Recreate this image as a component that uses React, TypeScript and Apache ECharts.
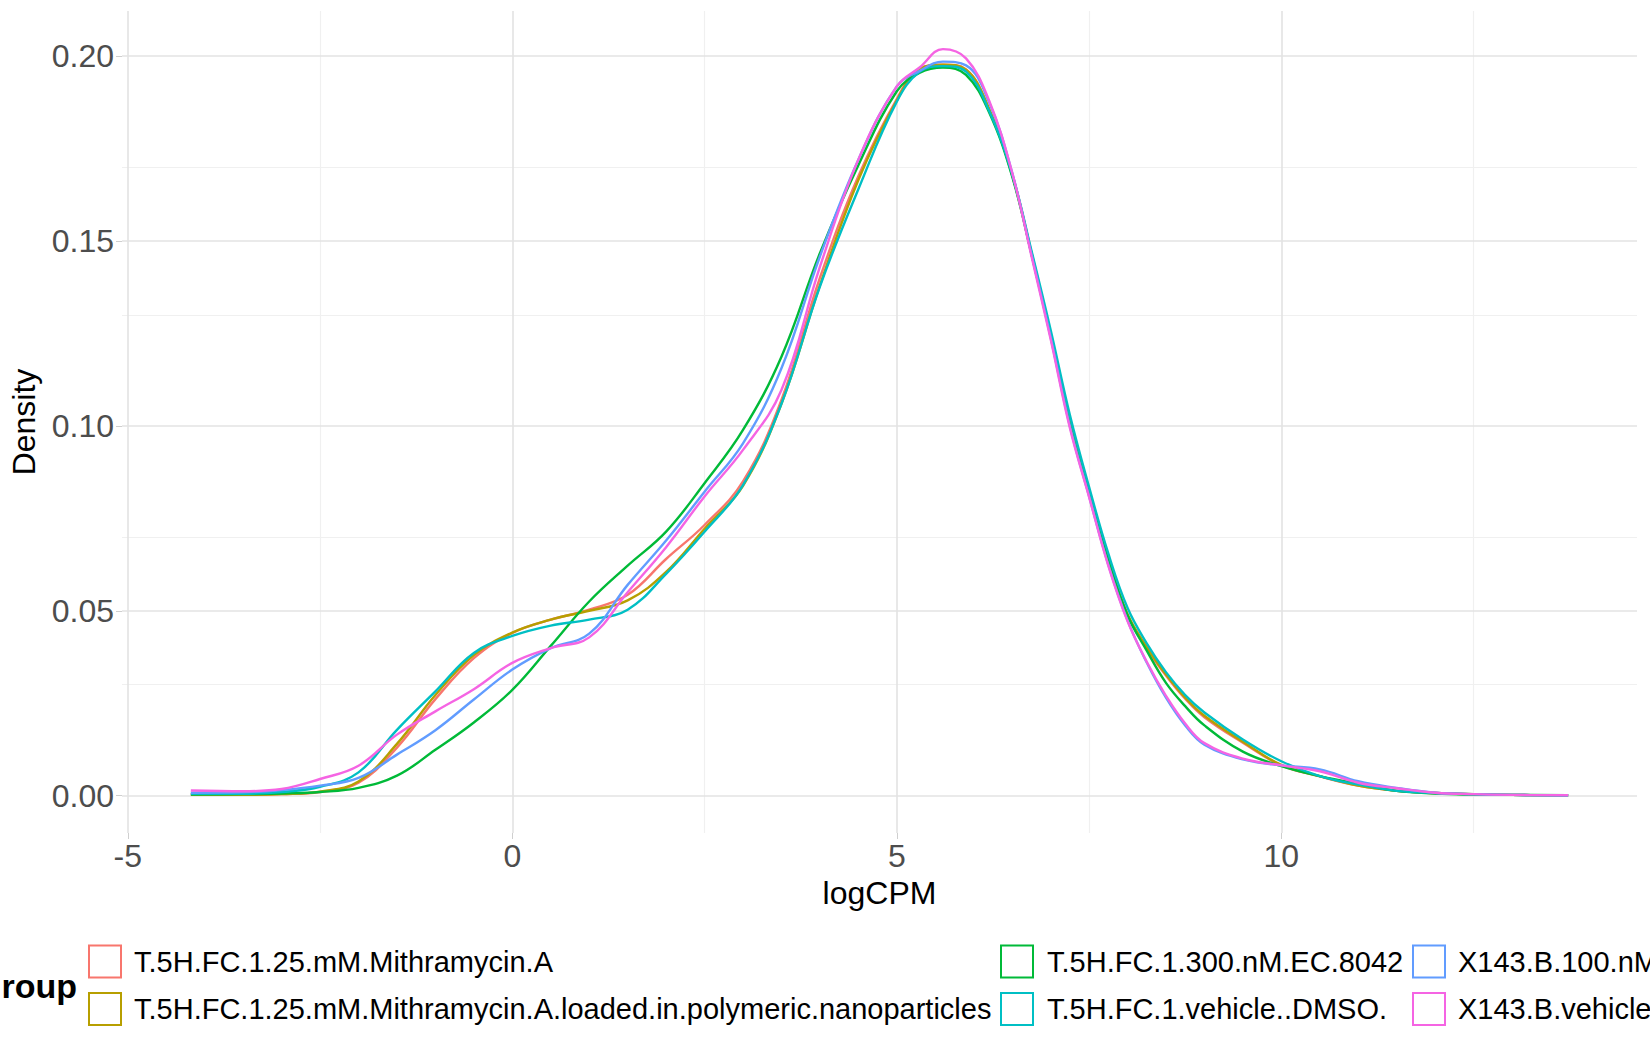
import React, { useEffect, useRef } from "react";
import * as echarts from "echarts";

// logCPM sample points shared by every density curve
const logCPM = [
    -4.18, -3.5, -3, -2.5, -2, -1.5, -1, -0.5, 0, 0.5, 1, 1.5, 2, 2.5, 3, 3.5, 4, 4.5, 5, 5.3, 5.6, 5.9,
    6.2, 6.5, 6.75, 7, 7.25, 7.5, 7.75, 8, 8.25, 8.5, 8.75, 9, 9.5, 10, 10.5, 11, 11.5, 12, 12.5, 13, 13.73,
];

const groups = [
    "T.5H.FC.1.25.mM.Mithramycin.A",
    "T.5H.FC.1.25.mM.Mithramycin.A.loaded.in.polymeric.nanoparticles",
    "T.5H.FC.1.300.nM.EC.8042",
    "T.5H.FC.1.vehicle..DMSO.",
    "X143.B.100.nM.EC.8042",
    "X143.B.vehicle..DMSO.",
];

const colors = ["#F8766D", "#B79F00", "#00BA38", "#00BFC4", "#619CFF", "#F564E3"];

const densityMithA = [
    0.0003, 0.0002, 0.0004, 0.001, 0.0035, 0.013, 0.0261, 0.0372, 0.044, 0.0476, 0.0503, 0.0543, 0.064, 0.0732,
    0.085, 0.107, 0.14, 0.1675, 0.1884, 0.1967, 0.1977, 0.1964, 0.1855, 0.1678, 0.1466, 0.1244, 0.1008, 0.0818,
    0.0637, 0.0488, 0.0398, 0.0325, 0.0262, 0.0212, 0.0143, 0.0082, 0.0052, 0.0027, 0.0013, 0.0007, 0.0004,
    0.0002, 0.0001,
];
const densityMithANano = [
    0.0003, 0.0002, 0.0004, 0.0011, 0.0038, 0.014, 0.0272, 0.038, 0.0441, 0.0476, 0.05, 0.0528, 0.0605, 0.0722,
    0.0838, 0.106, 0.138, 0.1665, 0.188, 0.1965, 0.1977, 0.1963, 0.1858, 0.168, 0.147, 0.1248, 0.1012, 0.0822,
    0.064, 0.0491, 0.0402, 0.0328, 0.0265, 0.0216, 0.0146, 0.0083, 0.0053, 0.0027, 0.0013, 0.0007, 0.0004,
    0.0002, 0.0001,
];
const densityEC8042 = [
    0.0003, 0.0004, 0.0006, 0.001, 0.0021, 0.0054, 0.0124, 0.0198, 0.0286, 0.0405, 0.0525, 0.0622, 0.0714, 0.0845,
    0.0989, 0.1187, 0.1467, 0.1705, 0.1905, 0.1955, 0.1969, 0.1949, 0.1848, 0.1675, 0.1466, 0.1244, 0.1005,
    0.0818, 0.0637, 0.0488, 0.0392, 0.0305, 0.0242, 0.019, 0.0119, 0.008, 0.0053, 0.0032, 0.0013, 0.0006,
    0.0003, 0.0002, 0.0001,
];
const densityDMSO = [
    0.0005, 0.0005, 0.001, 0.0024, 0.0063, 0.0178, 0.0282, 0.0386, 0.0432, 0.046, 0.0476, 0.0503, 0.06, 0.0714,
    0.084, 0.106, 0.1377, 0.164, 0.1877, 0.1958, 0.1973, 0.1958, 0.1852, 0.168, 0.1475, 0.126, 0.103, 0.0835,
    0.0655, 0.0508, 0.0412, 0.0334, 0.0272, 0.0225, 0.0152, 0.0093, 0.0053, 0.003, 0.0013, 0.0007, 0.0004,
    0.0002, 0.0001,
];
const densityX143EC = [
    0.0008, 0.0009, 0.0015, 0.0027, 0.0048, 0.0111, 0.0177, 0.026, 0.0341, 0.0399, 0.0438, 0.057, 0.069, 0.0822,
    0.0953, 0.1156, 0.1458, 0.172, 0.1918, 0.196, 0.1985, 0.1975, 0.1875, 0.1685, 0.1465, 0.124, 0.1, 0.081,
    0.0625, 0.0474, 0.036, 0.0265, 0.019, 0.0138, 0.0098, 0.0082, 0.0071, 0.0039, 0.0021, 0.0008, 0.0004,
    0.0002, 0.0001,
];
const densityX143DMSO = [
    0.0014, 0.0012, 0.0018, 0.0045, 0.0081, 0.0165, 0.0228, 0.0288, 0.0359, 0.0399, 0.0428, 0.055, 0.0672,
    0.0809, 0.0935, 0.1097, 0.143, 0.172, 0.1918, 0.197, 0.2019, 0.1994, 0.188, 0.1685, 0.146, 0.1235, 0.0995,
    0.0808, 0.0622, 0.0472, 0.0362, 0.027, 0.0195, 0.0142, 0.01, 0.0082, 0.0066, 0.0035, 0.002, 0.0008, 0.0004,
    0.0002, 0.0001,
];

const densities = [densityMithA, densityMithANano, densityEC8042, densityDMSO, densityX143EC, densityX143DMSO];

const xTicks = [-5, 0, 5, 10];
const xMinor = [-2.5, 2.5, 7.5, 12.5];
const yTicks = [0, 0.05, 0.1, 0.15, 0.2];
const yMinor = [0.025, 0.075, 0.125, 0.175];

const FONT = "'Liberation Sans', Arial, sans-serif";

const DensityChart: React.FC = () => {
    const ref = useRef<HTMLDivElement>(null);

    useEffect(() => {
        if (!ref.current) return;
        const chart = echarts.init(ref.current, null, { renderer: "svg" });

        const major = { color: "#e3e3e3", width: 1.6, type: "solid" };
        const minor = { color: "#f0f0f0", width: 1.2, type: "solid" };

        // legend drawn like ggplot: two rows, filled column by column
        const keyLeft = [88, 1000, 1412];
        const textLeft = [134, 1047, 1458];
        const rowMid = [961.5, 1009];
        const legend: any[] = [];
        groups.forEach((g, i) => {
            const col = Math.floor(i / 2);
            const row = i % 2;
            legend.push({
                type: "rect",
                shape: { x: keyLeft[col] + 1, y: rowMid[row] - 16, width: 32, height: 32 },
                style: { fill: "#fff", stroke: colors[i], lineWidth: 2 },
            });
            legend.push({
                type: "text",
                x: textLeft[col],
                y: rowMid[row],
                style: {
                    text: g,
                    fontSize: 29,
                    fontFamily: FONT,
                    fill: "#000",
                    textVerticalAlign: "middle",
                    verticalAlign: "middle",
                },
            });
        });
        legend.push({
            type: "text",
            x: 77,
            y: 986,
            style: {
                text: "group",
                fontSize: 34,
                fontWeight: "bold",
                fontFamily: FONT,
                fill: "#000",
                textAlign: "right",
                align: "right",
                textVerticalAlign: "middle",
                verticalAlign: "middle",
            },
        });

        const option = {
            animation: false,
            grid: { left: 120, right: 13, top: 11, bottom: 217, containLabel: false },
            xAxis: {
                type: "value",
                min: -5.0755,
                max: 14.6255,
                name: "logCPM",
                nameLocation: "middle",
                nameGap: 39,
                nameTextStyle: { fontSize: 32, color: "#000", fontFamily: FONT },
                axisLine: { show: false, onZero: false },
                axisTick: { show: true, customValues: xTicks, length: 6, lineStyle: { color: "#cfcfcf" } },
                axisLabel: {
                    customValues: xTicks,
                    fontSize: 32,
                    color: "#4d4d4d",
                    fontFamily: FONT,
                    margin: 7,
                },
                splitLine: { show: false },
            },
            yAxis: {
                type: "value",
                min: -0.0101,
                max: 0.2122,
                name: "Density",
                nameLocation: "middle",
                nameGap: 82,
                nameTextStyle: { fontSize: 32, color: "#000", fontFamily: FONT },
                axisLine: { show: false, onZero: false },
                axisTick: { show: true, customValues: yTicks, length: 6, lineStyle: { color: "#cfcfcf" } },
                axisLabel: {
                    customValues: yTicks,
                    formatter: (v: number) => v.toFixed(2),
                    fontSize: 32,
                    color: "#4d4d4d",
                    fontFamily: FONT,
                    margin: 8,
                },
                splitLine: { show: false },
            },
            series: [
                {
                    type: "line",
                    name: "grid",
                    data: [],
                    silent: true,
                    z: 0,
                    markLine: {
                        silent: true,
                        z: 0,
                        symbol: ["none", "none"],
                        label: { show: false },
                        emphasis: { disabled: true },
                        data: [
                            ...xMinor.map((v) => ({ xAxis: v, lineStyle: minor })),
                            ...yMinor.map((v) => ({ yAxis: v, lineStyle: minor })),
                            ...xTicks.map((v) => ({ xAxis: v, lineStyle: major })),
                            ...yTicks.map((v) => ({ yAxis: v, lineStyle: major })),
                        ],
                    },
                },
                ...groups.map((g, i) => ({
                    type: "line",
                    name: g,
                    data: logCPM.map((x, j) => [x, densities[i][j]]),
                    smooth: 0.4,
                    showSymbol: false,
                    symbol: "none",
                    z: 2 + i,
                    lineStyle: { color: colors[i], width: 2.4 },
                    itemStyle: { color: colors[i] },
                })),
            ],
            graphic: legend,
        };

        chart.setOption(option as any);

        return () => {
            chart.dispose();
        };
    }, []);

    return (
        <div
            ref={ref}
            style={{ position: "fixed", left: 0, top: 0, width: 1650, height: 1050, background: "#fff" }}
        />
    );
};

export default function App() {
    return <DensityChart />;
}
